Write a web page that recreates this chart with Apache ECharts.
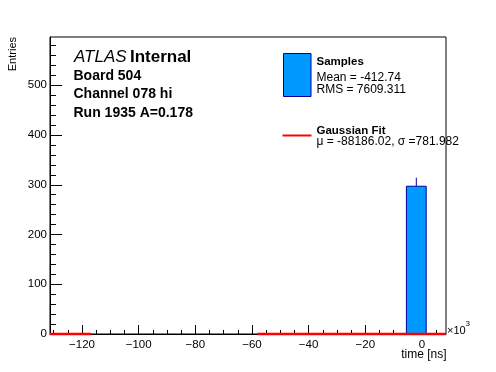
<!DOCTYPE html>
<html>
<head>
<meta charset="utf-8">
<script src="https://cdn.jsdelivr.net/npm/echarts@6/dist/echarts.min.js"></script>
<style>
html,body{margin:0;padding:0;background:#fff;}
#c{width:496px;height:372px;}
</style>
</head>
<body>
<div id="c"></div>
<script>
// ---- data ----
const xRange = [-131.3, 8.5];          // axis range (x10^3 ns)
const yRange = [0, 597];               // axis range (entries)
const nBins = 20;
const binCounts = [0,0,0,0,0,0,0,0,0,0,0,0,0,0,0,0,0,0,297,0];
const binErrors = [0,0,0,0,0,0,0,0,0,0,0,0,0,0,0,0,0,0,17.2,0];
const fitX = [-131.3, -116.8, -87.5, -58.2, 8.5];
const fitY = [0, 0, null, 0, 0];
const xMajorTicks = [-120, -100, -80, -60, -40, -20, 0];
const yMajorTicks = [0, 100, 200, 300, 400, 500];
const xMinorStep = 5;
const yMinorStep = 20;
const infoLines = ['Board 504', 'Channel 078 hi', 'Run 1935 A=0.178'];
const legendSamples = ['Samples', 'Mean = -412.74', 'RMS = 7609.311'];
const legendFit = ['Gaussian Fit', '\u03bc = -88186.02, \u03c3 =781.982'];

// ---- derived ----
const binW = (xRange[1] - xRange[0]) / nBins;
const bins = [];
binCounts.forEach((c, i) => {
  if (c > 0) bins.push([xRange[0] + i * binW, xRange[0] + (i + 1) * binW, c, binErrors[i]]);
});
const xMinor = [];
for (let v = Math.ceil(xRange[0] / xMinorStep) * xMinorStep; v <= xRange[1]; v += xMinorStep) xMinor.push(v);
const yMinor = [];
for (let v = yRange[0]; v <= yRange[1]; v += yMinorStep) yMinor.push(v);
const fitData = fitX.map((x, i) => [x, fitY[i]]);

const FONT = '"Liberation Sans", Arial, Helvetica, sans-serif';
const fmtMinus = v => (v < 0 ? '\u2212' + Math.abs(v) : String(v));

const chart = echarts.init(document.getElementById('c'), null, {renderer: 'canvas'});
chart.setOption({
  animation: false,
  backgroundColor: '#fff',
  textStyle: {fontFamily: FONT, color: '#000'},
  grid: {left: 50, top: 37, width: 396, height: 297, show: true, borderColor: '#000', borderWidth: 1, backgroundColor: 'transparent'},
  xAxis: [
    {type: 'value', position: 'bottom', min: xRange[0], max: xRange[1],
     axisLine: {show: true, onZero: false, lineStyle: {color: '#000', width: 1}},
     axisTick: {show: true, inside: true, length: 9, customValues: xMajorTicks, lineStyle: {color: '#000'}},
     axisLabel: {show: true, customValues: xMajorTicks, formatter: fmtMinus, fontSize: 11.5, color: '#000', fontFamily: FONT, margin: 5},
     splitLine: {show: false}},
    {type: 'value', position: 'bottom', min: xRange[0], max: xRange[1],
     axisLine: {show: false, onZero: false},
     axisTick: {show: true, inside: true, length: 4, customValues: xMinor, lineStyle: {color: '#000'}},
     axisLabel: {show: false},
     splitLine: {show: false}}
  ],
  yAxis: [
    {type: 'value', position: 'left', min: yRange[0], max: yRange[1],
     axisLine: {show: true, onZero: false, lineStyle: {color: '#000', width: 1}},
     axisTick: {show: true, inside: true, length: 12, customValues: yMajorTicks, lineStyle: {color: '#000'}},
     axisLabel: {show: true, customValues: yMajorTicks, fontSize: 11.5, color: '#000', fontFamily: FONT, margin: 3},
     splitLine: {show: false}},
    {type: 'value', position: 'left', min: yRange[0], max: yRange[1],
     axisLine: {show: false, onZero: false},
     axisTick: {show: true, inside: true, length: 6, customValues: yMinor, lineStyle: {color: '#000'}},
     axisLabel: {show: false},
     splitLine: {show: false}}
  ],
  series: [
    {type: 'custom', xAxisIndex: 0, yAxisIndex: 0, data: bins, z: 2,
     encode: {x: [0, 1], y: 2},
     renderItem: function (params, api) {
       const p0 = api.coord([api.value(0), api.value(2)]);
       const p1 = api.coord([api.value(1), 0]);
       const pc = api.coord([(api.value(0) + api.value(1)) / 2, api.value(2) + api.value(3)]);
       return {type: 'group', children: [
         {type: 'line', shape: {x1: pc[0], y1: p0[1], x2: pc[0], y2: pc[1]}, style: {stroke: '#000099', lineWidth: 1}},
         {type: 'rect', shape: {x: p0[0], y: p0[1], width: p1[0] - p0[0], height: p1[1] - p0[1]},
          style: {fill: '#0099ff', stroke: '#000099', lineWidth: 1}}
       ]};
     }},
    {type: 'line', xAxisIndex: 0, yAxisIndex: 0, data: fitData, showSymbol: false, symbol: 'none',
     connectNulls: false, clip: false, z: 5,
     lineStyle: {color: '#ff0000', width: 2.5}}
  ],
  graphic: [
    {type: 'text', x: 74, y: 57.5, style: {
      text: '{a|ATLAS} {b|Internal}', verticalAlign: 'middle', align: 'left',
      rich: {a: {fontStyle: 'italic', fontSize: 17, fontFamily: FONT, fill: '#000'},
             b: {fontWeight: 'bold', fontSize: 17, fontFamily: FONT, fill: '#000'}}}},
    {type: 'text', x: 73.5, y: 76.5, style: {text: infoLines[0], font: 'bold 14px ' + FONT, fill: '#000', verticalAlign: 'middle'}},
    {type: 'text', x: 73.5, y: 94.5, style: {text: infoLines[1], font: 'bold 14px ' + FONT, fill: '#000', verticalAlign: 'middle'}},
    {type: 'text', x: 73.5, y: 113.5, style: {text: infoLines[2], font: 'bold 14px ' + FONT, fill: '#000', verticalAlign: 'middle'}},
    {type: 'rect', shape: {x: 283.5, y: 53.5, width: 27.5, height: 43}, style: {fill: '#0099ff', stroke: '#000099', lineWidth: 1}},
    {type: 'text', x: 316.5, y: 61.5, style: {text: legendSamples[0], font: 'bold 11.5px ' + FONT, fill: '#000', verticalAlign: 'middle'}},
    {type: 'text', x: 316.5, y: 77.3, style: {text: legendSamples[1], font: '12px ' + FONT, fill: '#000', verticalAlign: 'middle'}},
    {type: 'text', x: 316.5, y: 89.3, style: {text: legendSamples[2], font: '12px ' + FONT, fill: '#000', verticalAlign: 'middle'}},
    {type: 'line', shape: {x1: 282.5, y1: 135.5, x2: 311.5, y2: 135.5}, style: {stroke: '#ff0000', lineWidth: 2}},
    {type: 'text', x: 316.5, y: 130.5, style: {text: legendFit[0], font: 'bold 11.5px ' + FONT, fill: '#000', verticalAlign: 'middle'}},
    {type: 'text', x: 316.5, y: 141.5, style: {text: legendFit[1], font: '12px ' + FONT, fill: '#000', verticalAlign: 'middle'}},
    {type: 'text', x: 13, y: 37, rotation: Math.PI / 2, style: {text: 'Entries', font: '11px ' + FONT, fill: '#000', align: 'right', verticalAlign: 'middle'}},
    {type: 'text', x: 446.5, y: 354.5, style: {text: 'time [ns]', font: '12px ' + FONT, fill: '#000', align: 'right', verticalAlign: 'middle'}},
    {type: 'text', x: 447, y: 330.5, style: {text: '\u00d710', font: '11px ' + FONT, fill: '#000', align: 'left', verticalAlign: 'middle'}},
    {type: 'text', x: 465.5, y: 324, style: {text: '3', font: '8px ' + FONT, fill: '#000', align: 'left', verticalAlign: 'middle'}}
  ]
});
</script>
</body>
</html>
